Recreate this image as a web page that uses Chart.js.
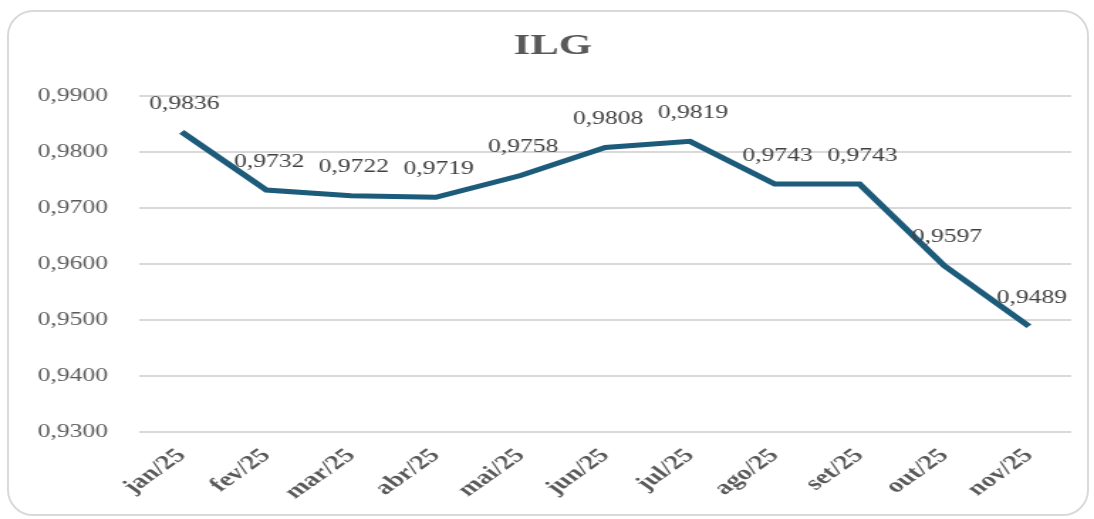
<!DOCTYPE html>
<html>
<head>
<meta charset="utf-8">
<script src="https://cdn.jsdelivr.net/npm/chart.js@4"></script>
<style>
  html, body { margin: 0; padding: 0; background: #fff; overflow: hidden; }
  #card {
    position: absolute; left: 7px; top: 10px; width: 1082px; height: 506px;
    border: 2px solid #d9d9d9; border-radius: 26px; box-sizing: border-box;
  }
  /* the reference is a horizontally stretched picture, so draw narrow and stretch */
  #wrap {
    position: absolute; left: 0; top: 0; width: 770px; height: 519px;
    transform: scaleX(1.4208); transform-origin: 0 0;
  }
</style>
</head>
<body>
<div id="card"></div>
<div id="wrap"><canvas id="chart"></canvas></div>
<script>
// data
const months = ["jan/25", "fev/25", "mar/25", "abr/25", "mai/25", "jun/25",
                "jul/25", "ago/25", "set/25", "out/25", "nov/25"];
const ilg = [0.9836, 0.9732, 0.9722, 0.9719, 0.9758, 0.9808,
             0.9819, 0.9743, 0.9743, 0.9597, 0.9489];
const yMin = 0.93, yMax = 0.99, yStep = 0.01;

const serif = "'Liberation Serif', 'Times New Roman', serif";
const fmt = v => v.toFixed(4).replace(".", ",");

// value labels above each point
const valueLabels = {
  id: "valueLabels",
  afterDatasetsDraw(chart) {
    const ctx = chart.ctx;
    const meta = chart.getDatasetMeta(0);
    ctx.save();
    ctx.font = "18px " + serif;
    ctx.fillStyle = "#404040";
    ctx.textAlign = "center";
    ctx.textBaseline = "middle";
    meta.data.forEach((pt, i) => {
      ctx.fillText(fmt(ilg[i]), pt.x + 2, pt.y - 28);
    });
    ctx.restore();
  }
};

new Chart(document.getElementById("chart"), {
  type: "line",
  data: {
    labels: months,
    datasets: [{
      label: "ILG",
      data: ilg,
      borderColor: "#1c5b7a",
      borderWidth: 5,
      pointRadius: 0,
      tension: 0,
      fill: false
    }]
  },
  options: {
    responsive: true,
    maintainAspectRatio: false,
    animation: false,
    layout: { padding: { left: 24, right: 16, top: 0, bottom: 0 } },
    plugins: {
      legend: { display: false },
      tooltip: { enabled: false },
      title: {
        display: true,
        text: "ILG",
        color: "#595959",
        font: { family: serif, size: 30, weight: "bold", lineHeight: 1.2 },
        padding: { top: 28, bottom: 32 }
      }
    },
    scales: {
      x: {
        offset: true,
        grid: { display: false, drawTicks: false },
        border: { display: false },
        ticks: {
          color: "#595959",
          font: { family: serif, size: 20, weight: "bold" },
          minRotation: 45, maxRotation: 45, padding: 12
        },
        afterFit: s => { s.height = 87; }
      },
      y: {
        min: yMin, max: yMax,
        grid: { color: "#d9d9d9", lineWidth: 2, drawTicks: false },
        border: { display: false },
        ticks: {
          stepSize: yStep,
          color: "#595959",
          padding: 22,
          font: { family: serif, size: 18 },
          callback: v => fmt(v)
        },
        afterFit: s => { s.width = 74; }
      }
    }
  },
  plugins: [valueLabels]
});
</script>
</body>
</html>
